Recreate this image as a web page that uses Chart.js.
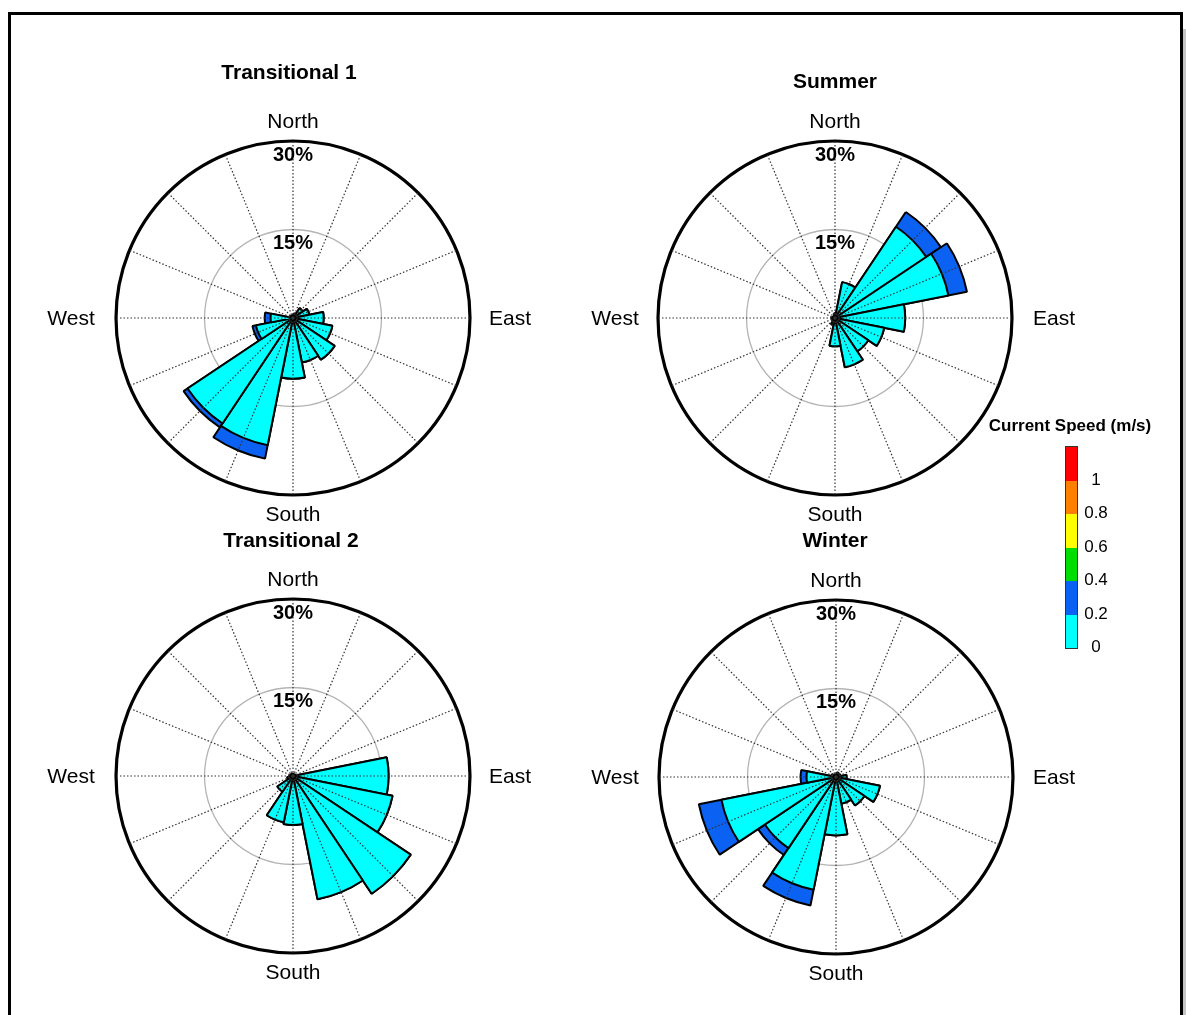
<!DOCTYPE html>
<html>
<head>
<meta charset="utf-8">
<script src="https://cdn.jsdelivr.net/npm/chart.js@4.4.1/dist/chart.umd.min.js"></script>
<style>
    body { margin: 0; background: #fff; font-family: "Liberation Sans", Arial, sans-serif; }
    #frame { position: absolute; left: 8px; top: 12px; width: 1175px; height: 1100px; border: 3px solid #000; box-sizing: border-box; }
    #shadow { position: absolute; left: 1183px; top: 29px; width: 3px; height: 1000px; background: #c4c4c4; }
    canvas.rose { position: absolute; }
    #legendTitle { position: absolute; left: 970px; top: 416px; width: 200px; text-align: center; font-weight: bold; font-size: 17px; }
    #colorbar { position: absolute; left: 1065px; top: 446px; width: 11px; border: 1px solid #333; }
    #colorbar div { height: 33.5px; }
    .ctick { position: absolute; width: 40px; text-align: center; font-size: 17px; line-height: 20px; }
</style>
</head>
<body>
<div id="frame"></div>
<div id="shadow"></div>
<canvas class="rose" id="rose1" width="520" height="480" style="left:33px;top:53px"></canvas>
<canvas class="rose" id="rose2" width="520" height="480" style="left:575px;top:53px"></canvas>
<canvas class="rose" id="rose3" width="520" height="480" style="left:33px;top:511px"></canvas>
<canvas class="rose" id="rose4" width="520" height="480" style="left:576px;top:512px"></canvas>
<div id="legendTitle">Current Speed (m/s)</div>
<div id="colorbar"></div>
<script>
// directions, clockwise from north
const directions = ['N', 'NNE', 'NE', 'ENE', 'E', 'ESE', 'SE', 'SSE', 'S', 'SSW', 'SW', 'WSW', 'W', 'WNW', 'NW', 'NNW'];

// percent of time, 0-0.2 m/s and 0.2-0.4 m/s
const trans1Slow = [0.5, 0.8, 2.0, 2.8, 5.2, 6.8, 8.5, 7.7, 10.3, 22.0, 21.5, 6.4, 3.8, 0.6, 0.5, 0.4];
const trans1Fast = [0, 0, 0, 0, 0, 0, 0, 0, 0, 2.3, 0.8, 0.6, 1.0, 0, 0, 0];

const summerSlow = [0.8, 6.2, 18.6, 19.6, 11.9, 8.5, 6.8, 8.5, 4.8, 1.2, 0.6, 0.4, 0.6, 0.4, 0.3, 0.4];
const summerFast = [0, 0, 3.0, 3.2, 0, 0, 0, 0, 0, 0, 0, 0, 0, 0, 0, 0];

const trans2Slow = [0.4, 0.3, 0.3, 0.4, 16.2, 17.2, 24.0, 21.3, 8.3, 8.0, 3.2, 1.0, 0.6, 0.4, 0.4, 0.4];
const trans2Fast = [0, 0, 0, 0, 0, 0, 0, 0, 0, 0, 0, 0, 0, 0, 0, 0];

const winterSlow = [0.4, 0.8, 0.6, 0.8, 1.8, 7.6, 5.8, 4.6, 9.9, 19.5, 14.5, 19.8, 5.0, 0.8, 0.5, 0.4];
const winterFast = [0, 0, 0, 0, 0, 0, 0, 0, 0, 2.7, 1.4, 3.9, 1.0, 0, 0, 0];

const rTicks = [15, 30];
const speedLabels = ['0', '0.2', '0.4', '0.6', '0.8', '1'];
const speedColors = ['#00ffff', '#0b62f2', '#00dd00', '#ffff00', '#ff7f00', '#ff0000'];

// colour bar legend
const bar = document.getElementById('colorbar');
for (let i = speedColors.length - 1; i >= 0; i--) {
    const seg = document.createElement('div');
    seg.style.background = speedColors[i];
    bar.appendChild(seg);
}
speedLabels.forEach((lab, i) => {
    const d = document.createElement('div');
    d.className = 'ctick';
    d.textContent = lab;
    d.style.left = '1076px';
    d.style.top = (647 - i * 33.5 - 10) + 'px';
    document.body.appendChild(d);
});

// dotted direction lines + text round each rose
const roseDecor = {
    id: 'roseDecor',
    afterDatasetsDraw(chart) {
        const r = chart.scales.r;
        const ctx = chart.ctx;
        const R = r.drawingArea;
        ctx.save();
        ctx.strokeStyle = '#333';
        ctx.lineWidth = 1.2;
        ctx.setLineDash([1.5, 2]);
        for (let i = 0; i < 16; i++) {
            const a = i * Math.PI / 8 - Math.PI / 2;
            ctx.beginPath();
            ctx.moveTo(r.xCenter, r.yCenter);
            ctx.lineTo(r.xCenter + R * Math.cos(a), r.yCenter + R * Math.sin(a));
            ctx.stroke();
        }
        ctx.restore();
    },
    afterDraw(chart, args, opts) {
        const r = chart.scales.r;
        const ctx = chart.ctx;
        const cx = r.xCenter, cy = r.yCenter;
        ctx.save();
        ctx.fillStyle = '#000';
        ctx.textAlign = 'center';
        ctx.textBaseline = 'middle';
        ctx.font = 'bold 21px "Liberation Sans", Arial, sans-serif';
        ctx.fillText(opts.title, cx + opts.titleDx, cy + opts.titleDy);
        ctx.font = '21px "Liberation Sans", Arial, sans-serif';
        ctx.fillText('North', cx, cy - 196);
        ctx.fillText('South', cx, cy + 197);
        ctx.fillText('West', cx + opts.westDx, cy + 1);
        ctx.fillText('East', cx + opts.eastDx, cy + 1);
        ctx.font = 'bold 20px "Liberation Sans", Arial, sans-serif';
        rTicks.forEach(v => {
            ctx.fillText(v + '%', cx, cy - r.getDistanceFromCenterForValue(v) + 14);
        });
        ctx.restore();
    }
};

function makeRose(id, slow, fast, decor) {
    const total = slow.map((v, i) => v + fast[i]);
    return new Chart(document.getElementById(id), {
        type: 'polarArea',
        data: {
            labels: directions,
            datasets: [
                { label: '0 - 0.2', data: slow, backgroundColor: speedColors[0] },
                { label: '0.2 - 0.4', data: total, backgroundColor: speedColors[1] }
            ]
        },
        options: {
            responsive: false,
            devicePixelRatio: 1,
            animation: false,
            layout: { padding: { left: 83, right: 83, top: 88, bottom: 38 } },
            elements: { arc: { borderColor: '#000', borderWidth: 2 } },
            scales: {
                r: {
                    min: 0,
                    max: 30,
                    startAngle: -11.25,
                    z: 1,
                    ticks: { display: false, stepSize: 15 },
                    angleLines: { display: false },
                    pointLabels: { display: false },
                    grid: {
                        circular: true,
                        color: ctx => ctx.tick.value === 30 ? '#000' : '#b4b4b4',
                        lineWidth: ctx => ctx.tick.value === 30 ? 3.2 : 1.3
                    }
                }
            },
            plugins: {
                legend: { display: false },
                tooltip: { enabled: false },
                roseDecor: decor
            }
        },
        plugins: [roseDecor]
    });
}

makeRose('rose1', trans1Slow, trans1Fast, { title: 'Transitional 1', titleDx: -4, titleDy: -245, westDx: -222, eastDx: 217 });
makeRose('rose2', summerSlow, summerFast, { title: 'Summer', titleDx: 0, titleDy: -236, westDx: -220, eastDx: 219 });
makeRose('rose3', trans2Slow, trans2Fast, { title: 'Transitional 2', titleDx: -2, titleDy: -235, westDx: -222, eastDx: 217 });
makeRose('rose4', winterSlow, winterFast, { title: 'Winter', titleDx: -1, titleDy: -236, westDx: -221, eastDx: 218 });
</script>
</body>
</html>
